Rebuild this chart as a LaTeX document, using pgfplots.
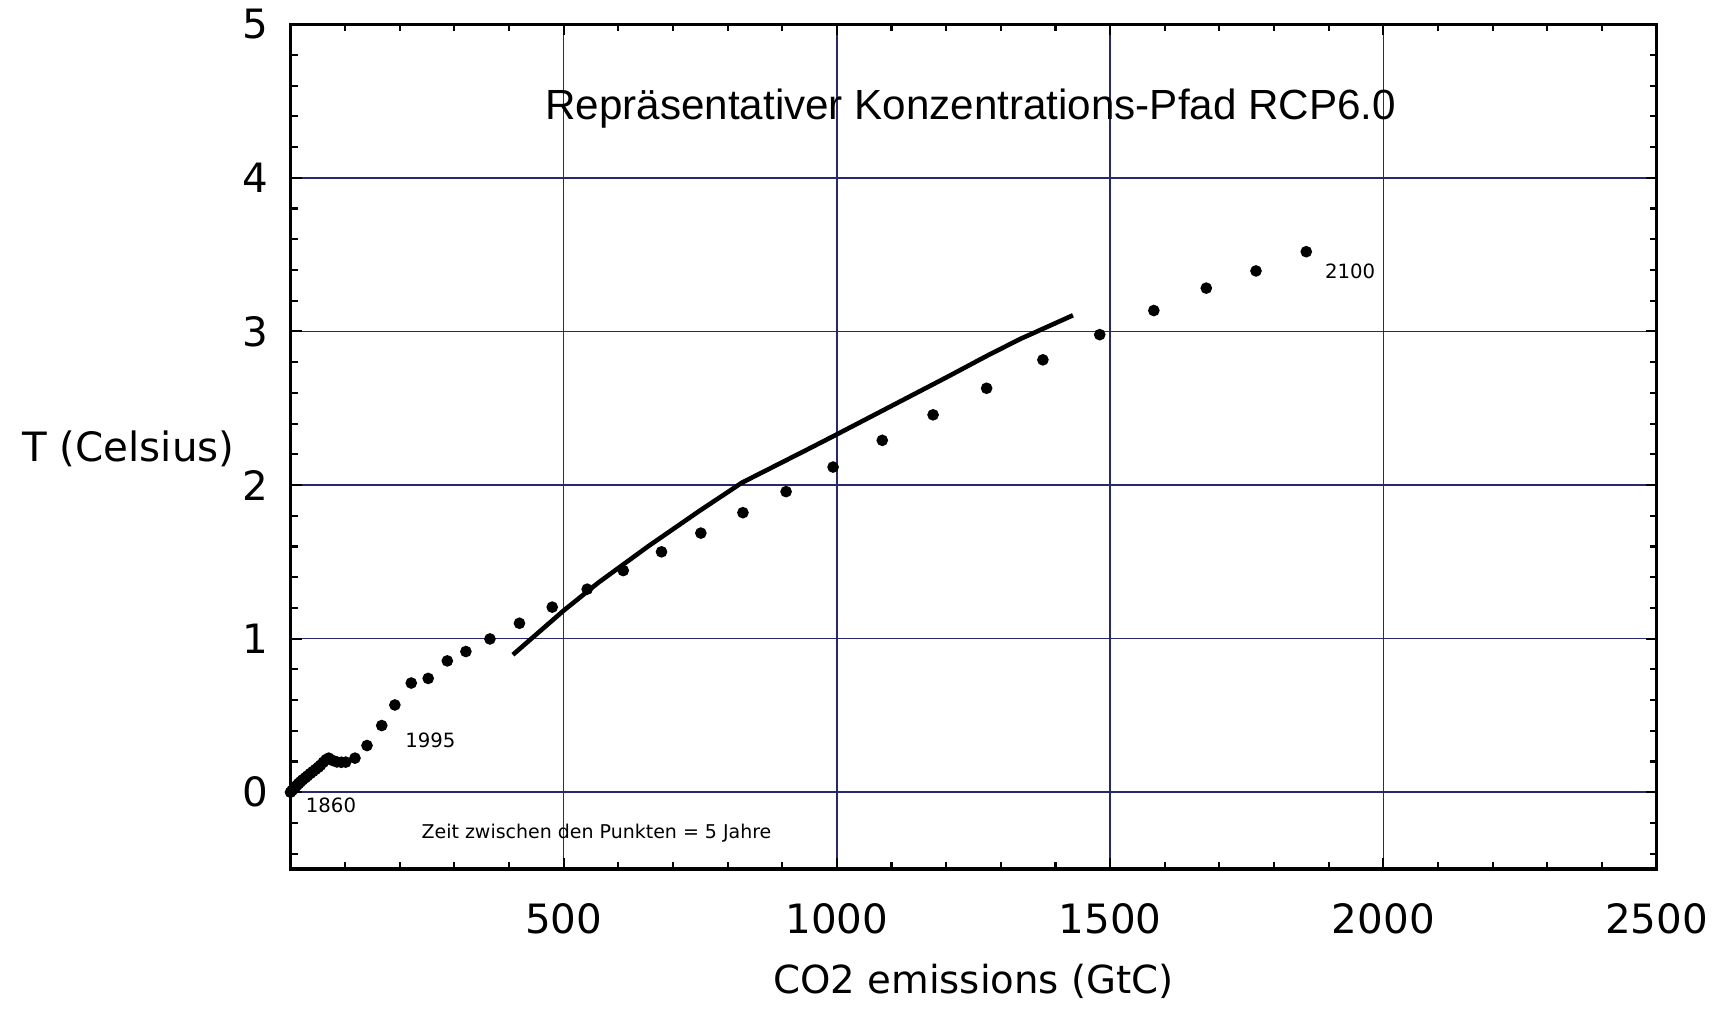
\documentclass[border=0pt]{standalone}
\usepackage{fontspec}
\setmainfont{DejaVu Sans}
\newfontfamily\titlefont{Liberation Sans}
\usepackage{pgfplots}
\pgfplotsset{compat=1.18}
\definecolor{gridc}{RGB}{40,40,110}
\pgfplotstableread{
x y
0 0
3 0.012
6 0.023
9 0.035
12 0.046
15 0.057
18 0.067
22 0.080
27 0.094
31 0.106
36 0.121
41 0.135
46 0.149
51 0.163
55 0.176
60 0.195
65 0.212
70 0.222
77 0.207
85 0.197
93 0.195
101 0.196
118 0.222
140 0.304
167 0.434
191 0.568
221 0.711
252 0.741
287 0.855
321 0.916
365 0.998
419 1.100
479 1.205
543 1.322
609 1.443
679 1.565
751 1.687
828 1.820
907 1.957
993 2.117
1083 2.291
1176 2.457
1274 2.630
1377 2.815
1481 2.979
1580 3.136
1676 3.282
1767 3.394
1859 3.519
}\dots
\pgfplotstableread{
x y
407 0.895
500 1.183
564 1.366
655 1.602
747 1.828
826 2.015
887 2.125
948 2.235
1000 2.330
1100 2.515
1200 2.700
1274 2.840
1335 2.950
1432 3.105
}\curve
\begin{document}
\begin{tikzpicture}
\useasboundingbox (-29.05mm,-16.3mm) rectangle (143.65mm,86.9mm);
\begin{axis}[
  at={(0,0)}, anchor=south west,
  scale only axis, width=136.6mm, height=84.48mm,
  xmin=0, xmax=2500, ymin=-0.5, ymax=5,
  xtick={500,1000,1500,2000,2500},
  ytick={0,1,2,3,4,5},
  minor xtick={100,200,300,400,600,700,800,900,1100,1200,1300,1400,1600,1700,1800,1900,2100,2200,2300,2400},
  minor ytick={-0.4,-0.2,0.2,0.4,0.6,0.8,1.2,1.4,1.6,1.8,2.2,2.4,2.6,2.8,3.2,3.4,3.6,3.8,4.2,4.4,4.6,4.8},
  tick align=inside,
  grid=major,
  major grid style={gridc, line width=0.45pt},
  axis line style={black, line width=0.9pt},
  major tick length=1.1mm, minor tick length=0.7mm,
  every tick/.style={black, line width=0.6pt},
  tick label style={font=\fontsize{11.5}{13}\selectfont},
  /pgf/number format/assume math mode=true,
  /pgf/number format/1000 sep={},
  xticklabel style={yshift=-2.2mm},
  yticklabel style={xshift=-1mm},
  xlabel={CO2 emissions (GtC)},
  ylabel={T (Celsius)},
  every axis x label/.style={at={(axis description cs:0.5,0)}, anchor=center, yshift=-11.2mm, font=\fontsize{11}{13}\selectfont},
  every axis y label/.style={at={(axis description cs:0,0.497)}, anchor=east, xshift=-4.35mm, font=\fontsize{11.5}{13}\selectfont},
  clip=false,
]
\addplot[only marks, mark=*, mark size=1.45pt, black] table[x=x,y=y] {\dots};
\addplot[black, line width=1.3pt, line join=round] table[x=x,y=y] {\curve};
\node[anchor=base, inner sep=0, font=\titlefont\fontsize{12}{14}\selectfont] at (axis cs:1245,4.38) {Repräsentativer Konzentrations-Pfad RCP6.0};
\node[anchor=base, inner sep=0, font=\fontsize{5.4}{6}\selectfont] at (axis cs:560,-0.304) {Zeit zwischen den Punkten = 5 Jahre};
\node[anchor=base west, inner sep=0, font=\fontsize{5.6}{6}\selectfont] at (axis cs:27,-0.133) {1860};
\node[anchor=base west, inner sep=0, font=\fontsize{5.6}{6}\selectfont] at (axis cs:209,0.288) {1995};
\node[anchor=base west, inner sep=0, font=\fontsize{5.6}{6}\selectfont] at (axis cs:1892,3.346) {2100};
\end{axis}
\end{tikzpicture}
\end{document}
